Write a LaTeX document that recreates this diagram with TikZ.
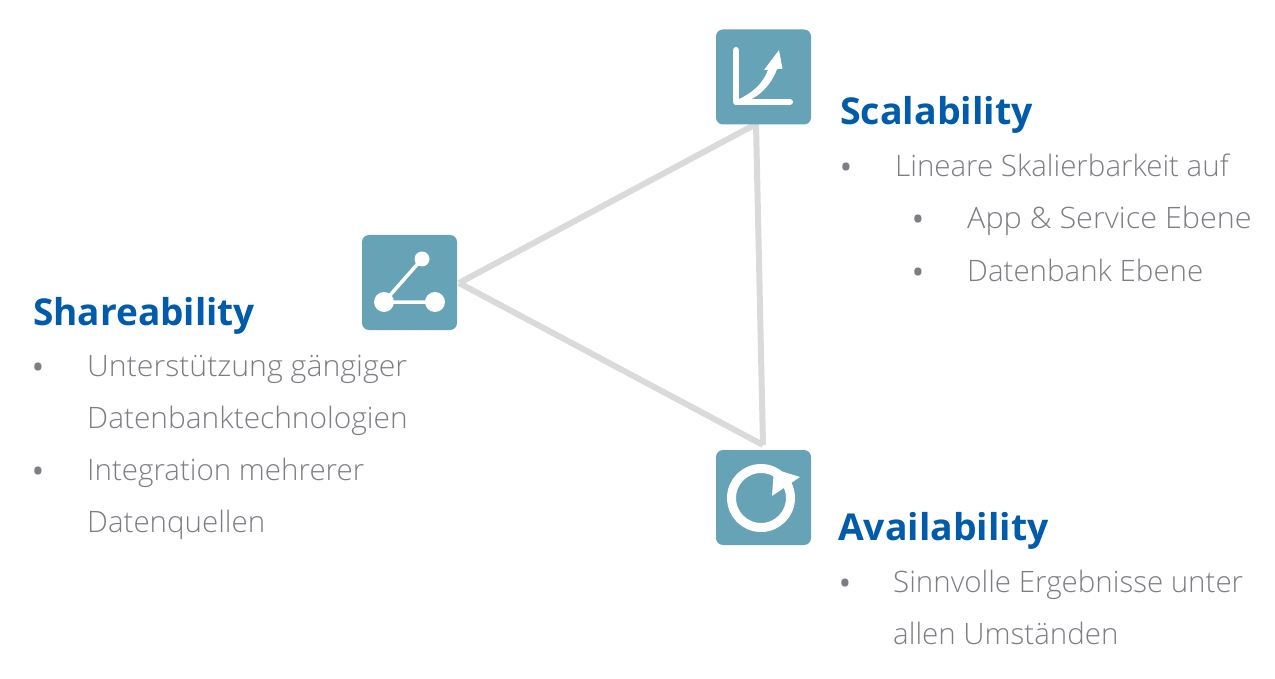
\documentclass[tikz,border=0pt]{standalone}
\usepackage{fontspec}
\setmainfont{Open Sans}[UprightFont=* Light,BoldFont=* Bold]
\definecolor{tile}{RGB}{102,163,182}
\definecolor{head}{RGB}{0,92,170}
\definecolor{bodytxt}{RGB}{125,125,132}
\definecolor{edge}{RGB}{218,218,218}
\tikzset{
  x=1pt,y=-1pt,
  tilebox/.style={fill=tile,rounded corners=7pt,minimum width=95pt,minimum height=95pt,inner sep=0pt,outer sep=0pt},
  headtxt/.style={anchor=base west,inner sep=0pt,text=head,font=\fontsize{37}{44}\selectfont\bfseries},
  bodyline/.style={anchor=base west,inner sep=0pt,text=bodytxt,font=\fontsize{29.5}{35}\selectfont},
  bulletmark/.style={anchor=base,inner sep=0pt,text=bodytxt,font=\fontsize{26}{30}\selectfont\bfseries},
  edgeline/.style={draw=edge,line width=6pt},
  iconline/.style={draw=white,line cap=round,line join=round}
}
\begin{document}
\begin{tikzpicture}
\useasboundingbox (0,0) rectangle (1275,679);
% connectors
\coordinate (sT) at (756,124);
\coordinate (sL) at (459,283);
\coordinate (sB) at (763,445);
\draw[edgeline] (sL) -- (sT);
\draw[edgeline] (sL) -- (sB);
\draw[edgeline] (sT) -- (sB);
% tiles
\node[tilebox] (scal) at (763.5,77) {};
\node[tilebox] (share) at (409.5,282.5) {};
\node[tilebox] (avail) at (763.5,497.5) {};
% scalability icon
\draw[iconline,line width=6pt] (736,50) -- (736,102) -- (790,102);
\fill[white] (737,100) .. controls (751,94) and (763,84) .. (768,70) -- (764,70) -- (779,50) -- (782.5,69) -- (777,69) .. controls (771,86) and (757,99) .. (743,102) -- cycle;
% shareability icon
\draw[iconline,line width=3.5pt] (422,259) -- (384,302) -- (435,302);
\fill[white] (422,259) circle (7.5);
\fill[white] (384,302) circle (10);
\fill[white] (435,302) circle (10);
% availability icon
\draw[draw=white,line width=9pt] (761,498) circle (29.5);
\fill[white] (800,477) -- (774,469) -- (772,496) -- cycle;
% Scalability text
\node[headtxt,xscale=1.015] (t1) at (840,125) {Scalability};
\node[bulletmark] (b1) at (846,177) {•};
\node[bodyline] (l1) at (895,177) {Lineare Skalierbarkeit auf};
\node[bulletmark] (b2) at (918,229) {•};
\node[bodyline,xscale=1.036] (l2) at (967,229) {App \& Service Ebene};
\node[bulletmark] (b3) at (918,281) {•};
\node[bodyline] (l3) at (967,281) {Datenbank Ebene};
% Shareability text
\node[headtxt] (t2) at (33,325) {Shareability};
\node[bulletmark] (b4) at (38,376) {•};
\node[bodyline,xscale=1.025] (l4) at (87,376) {Unterstützung gängiger};
\node[bodyline,xscale=1.012] (l5) at (87,428) {Datenbanktechnologien};
\node[bulletmark] (b5) at (38,480) {•};
\node[bodyline] (l6) at (87,480) {Integration mehrerer};
\node[bodyline] (l7) at (87,532) {Datenquellen};
% Availability text
\node[headtxt,xscale=1.01] (t3) at (838,540) {Availability};
\node[bulletmark] (b6) at (845,592) {•};
\node[bodyline] (l8) at (893,592) {Sinnvolle Ergebnisse unter};
\node[bodyline] (l9) at (893,644) {allen Umständen};
\end{tikzpicture}
\end{document}
